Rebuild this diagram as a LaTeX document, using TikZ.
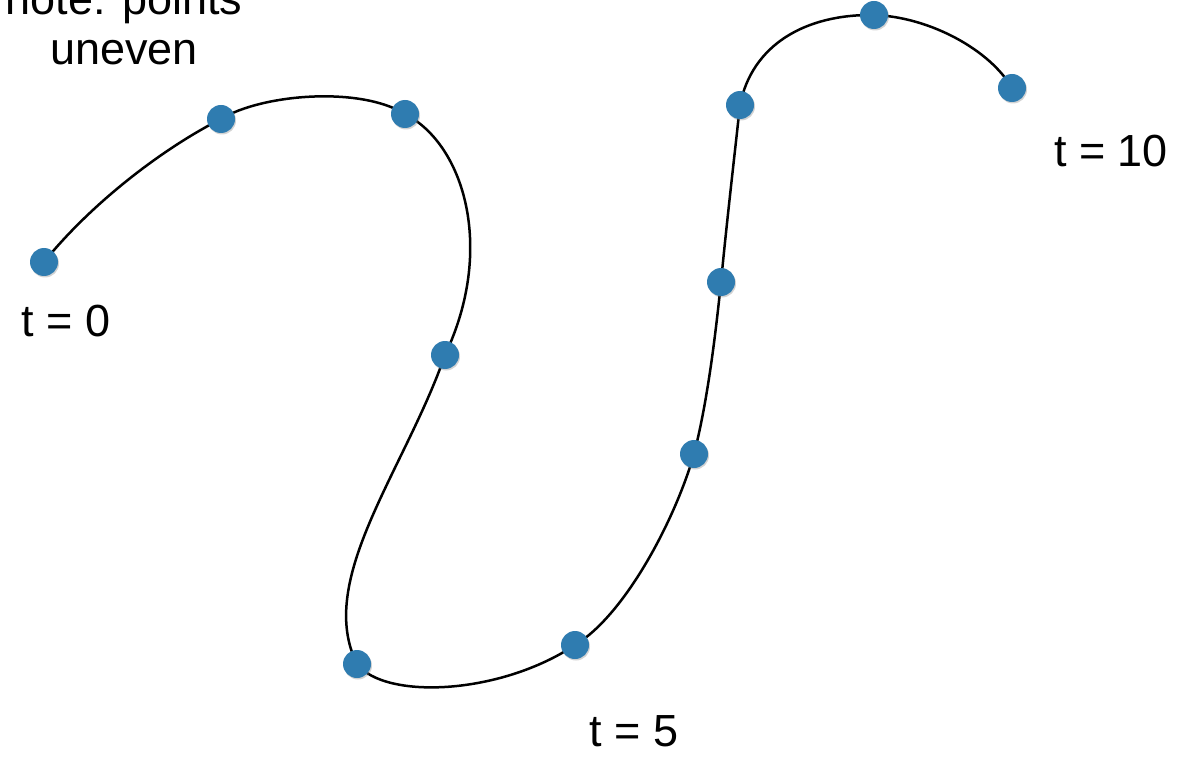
\documentclass[tikz,border=0pt]{standalone}
\usepackage{fontspec}
\setmainfont{Liberation Sans}
\usetikzlibrary{shadows}
\definecolor{cDot}{RGB}{47,124,176}

\begin{document}
\begin{tikzpicture}[x=1pt, y=-1pt, every node/.style={font=\fontsize{45}{50}\selectfont},
    dot/.style={circle, fill=cDot, inner sep=0pt, minimum size=28pt,
      drop shadow={shadow xshift=1pt, shadow yshift=-1.5pt, opacity=0.35}}]
  \useasboundingbox (0,0) rectangle (1180,759);
  % sample points along the path
  \coordinate (p0) at (44,262);
  \coordinate (p1) at (221,119);
  \coordinate (p2) at (405,114);
  \coordinate (p3) at (445,355);
  \coordinate (p4) at (357,664);
  \coordinate (p5) at (575,645);
  \coordinate (p6) at (694,454);
  \coordinate (p7) at (721,282);
  \coordinate (p8) at (740,105);
  \coordinate (p9) at (874,15);
  \coordinate (p10) at (1012,88);
  \draw[line width=2.5pt] (p0) .. controls (90,205) and (160,150) .. (p1)
    .. controls (262,94) and (360,86) .. (p2)
    .. controls (465,145) and (495,250) .. (p3)
    .. controls (405,470) and (315,580) .. (p4)
    .. controls (385,700) and (500,695) .. (p5)
    .. controls (625,615) and (675,520) .. (p6)
    .. controls (708,400) and (716,330) .. (p7)
    .. controls (727,220) and (734,160) .. (p8)
    .. controls (752,45) and (805,14) .. (p9)
    .. controls (930,17) and (990,50) .. (p10);
  \foreach \i in {0,...,10}
    \node[dot] (d\i) at (p\i) {};
  % labels
  \node[anchor=base] (note1) at (124,15) {note: points};
  \node[anchor=base] (note2) at (124,65) {uneven};
  \node[anchor=base] (t0) at (66,336) {t = 0};
  \node[anchor=base] (t5) at (634,746) {t = 5};
  \node[anchor=base] (t10) at (1111,167) {t = 10};
\end{tikzpicture}
\end{document}
